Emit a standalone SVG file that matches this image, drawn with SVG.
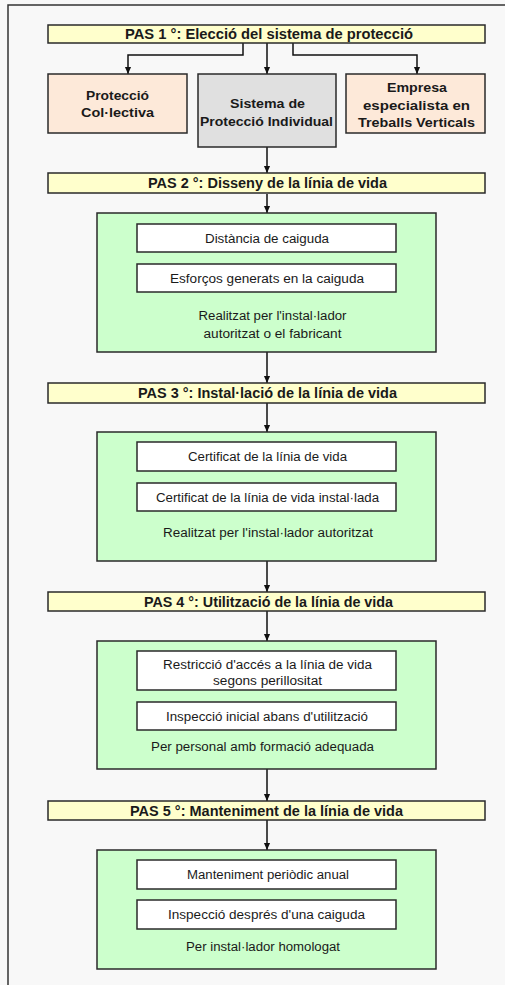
<svg xmlns="http://www.w3.org/2000/svg" width="505" height="985" viewBox="0 0 505 985">
<style>
text{font-family:"Liberation Sans",Arial,sans-serif;fill:#1a1a1a;text-anchor:middle}
.bar{fill:#ffffcc;stroke:#2a2a2a;stroke-width:1.5}
.peach{fill:#fde9d9;stroke:#2a2a2a;stroke-width:1.5}
.gray{fill:#e0e0e0;stroke:#2a2a2a;stroke-width:1.5}
.green{fill:#ccffcc;stroke:#2a2a2a;stroke-width:1.5}
.white{fill:#ffffff;stroke:#2a2a2a;stroke-width:1.5}
.bt{font-size:14px;font-weight:bold}
.nt{font-size:12px;font-weight:bold}
.st{font-size:12px}
.conn{fill:none;stroke:#111;stroke-width:1.5}
</style>
<defs>
<marker id="arr" markerUnits="userSpaceOnUse" markerWidth="7" markerHeight="8" refX="8" refY="3.5" orient="auto" viewBox="0 0 8 7">
<path d="M0,0 L8,3.5 L0,7 Z" fill="#111"/>
</marker>
</defs>
<rect x="0" y="0" width="505" height="985" fill="#f8f8f8"/>
<rect x="8" y="5" width="520" height="1000" fill="none" stroke="#333" stroke-width="1.5"/>

<g id="connectors">
<path class="conn" marker-end="url(#arr)" d="M243,43 V55 H128 V74"/>
<path class="conn" marker-end="url(#arr)" d="M267,43 V74"/>
<path class="conn" marker-end="url(#arr)" d="M293,43 V55 H417 V74"/>
<path class="conn" marker-end="url(#arr)" d="M267,147 V173"/>
<path class="conn" marker-end="url(#arr)" d="M267,194 V213"/>
<path class="conn" marker-end="url(#arr)" d="M267,352 V383"/>
<path class="conn" marker-end="url(#arr)" d="M267,403 V432"/>
<path class="conn" marker-end="url(#arr)" d="M267,561 V592"/>
<path class="conn" marker-end="url(#arr)" d="M267,611 V641"/>
<path class="conn" marker-end="url(#arr)" d="M267,769 V801"/>
<path class="conn" marker-end="url(#arr)" d="M267,820 V850"/>
</g>

<g id="pas1">
<rect class="bar" x="48" y="25" width="437" height="18"/>
<text class="bt" x="269" y="39" textLength="288" lengthAdjust="spacingAndGlyphs">PAS 1 °: Elecció del sistema de protecció</text>
</g>
<g id="collectiva">
<rect class="peach" x="48" y="74" width="139" height="59"/>
<text class="nt" x="117.5" y="100" textLength="63" lengthAdjust="spacingAndGlyphs">Protecció</text>
<text class="nt" x="117.5" y="117" textLength="73" lengthAdjust="spacingAndGlyphs">Col·lectiva</text>
</g>
<g id="individual">
<rect class="gray" x="198" y="74" width="138" height="73"/>
<text class="nt" x="267.5" y="108" textLength="75" lengthAdjust="spacingAndGlyphs">Sistema de</text>
<text class="nt" x="266.5" y="126" textLength="133" lengthAdjust="spacingAndGlyphs">Protecció Individual</text>
</g>
<g id="empresa">
<rect class="peach" x="346" y="74" width="139" height="59"/>
<text class="nt" x="417" y="92" textLength="60" lengthAdjust="spacingAndGlyphs">Empresa</text>
<text class="nt" x="416.5" y="110" textLength="107" lengthAdjust="spacingAndGlyphs">especialista en</text>
<text class="nt" x="416.5" y="127" textLength="117" lengthAdjust="spacingAndGlyphs">Treballs Verticals</text>
</g>

<g id="pas2">
<rect class="bar" x="48" y="173" width="437" height="20"/>
<text class="bt" x="267.5" y="188" textLength="239" lengthAdjust="spacingAndGlyphs">PAS 2 °: Disseny de la línia de vida</text>
</g>
<g id="disseny">
<rect class="green" x="97" y="213" width="339" height="139"/>
<rect class="white" x="137" y="224" width="259" height="28"/>
<text class="st" x="267" y="242.5" textLength="124" lengthAdjust="spacingAndGlyphs">Distància de caiguda</text>
<rect class="white" x="137" y="264" width="259" height="28"/>
<text class="st" x="267" y="282.5" textLength="194" lengthAdjust="spacingAndGlyphs">Esforços generats en la caiguda</text>
<text class="st" x="272.5" y="319.5" textLength="148" lengthAdjust="spacingAndGlyphs">Realitzat per l'instal·lador</text>
<text class="st" x="272.5" y="337.5" textLength="138" lengthAdjust="spacingAndGlyphs">autoritzat o el fabricant</text>
</g>

<g id="pas3">
<rect class="bar" x="48" y="383" width="437" height="20"/>
<text class="bt" x="267.5" y="398" textLength="259" lengthAdjust="spacingAndGlyphs">PAS 3 °: Instal·lació de la línia de vida</text>
</g>
<g id="installacio">
<rect class="green" x="97" y="432" width="339" height="129"/>
<rect class="white" x="137" y="442" width="259" height="29"/>
<text class="st" x="267.5" y="461" textLength="159" lengthAdjust="spacingAndGlyphs">Certificat de la línia de vida</text>
<rect class="white" x="137" y="483" width="259" height="28"/>
<text class="st" x="267.5" y="501.5" textLength="223" lengthAdjust="spacingAndGlyphs">Certificat de la línia de vida instal·lada</text>
<text class="st" x="268" y="536.5" textLength="210" lengthAdjust="spacingAndGlyphs">Realitzat per l'instal·lador autoritzat</text>
</g>

<g id="pas4">
<rect class="bar" x="48" y="592" width="437" height="19"/>
<text class="bt" x="268.5" y="606.5" textLength="249" lengthAdjust="spacingAndGlyphs">PAS 4 °: Utilització de la línia de vida</text>
</g>
<g id="utilitzacio">
<rect class="green" x="97" y="641" width="339" height="128"/>
<rect class="white" x="137" y="651" width="259" height="39"/>
<text class="st" x="267.5" y="668.5" textLength="209" lengthAdjust="spacingAndGlyphs">Restricció d'accés a la línia de vida</text>
<text class="st" x="267.5" y="684.5" textLength="109" lengthAdjust="spacingAndGlyphs">segons perillositat</text>
<rect class="white" x="137" y="702" width="259" height="28"/>
<text class="st" x="267" y="721" textLength="202" lengthAdjust="spacingAndGlyphs">Inspecció inicial abans d'utilització</text>
<text class="st" x="262.5" y="750.5" textLength="223" lengthAdjust="spacingAndGlyphs">Per personal amb formació adequada</text>
</g>

<g id="pas5">
<rect class="bar" x="48" y="801" width="437" height="19"/>
<text class="bt" x="266.5" y="815.5" textLength="273" lengthAdjust="spacingAndGlyphs">PAS 5 °: Manteniment de la línia de vida</text>
</g>
<g id="manteniment">
<rect class="green" x="97" y="850" width="339" height="119"/>
<rect class="white" x="137" y="860" width="259" height="29"/>
<text class="st" x="268" y="879" textLength="162" lengthAdjust="spacingAndGlyphs">Manteniment periòdic anual</text>
<rect class="white" x="137" y="900" width="259" height="29"/>
<text class="st" x="266.5" y="919" textLength="197" lengthAdjust="spacingAndGlyphs">Inspecció després d'una caiguda</text>
<text class="st" x="263" y="950.5" textLength="154" lengthAdjust="spacingAndGlyphs">Per instal·lador homologat</text>
</g>
</svg>
